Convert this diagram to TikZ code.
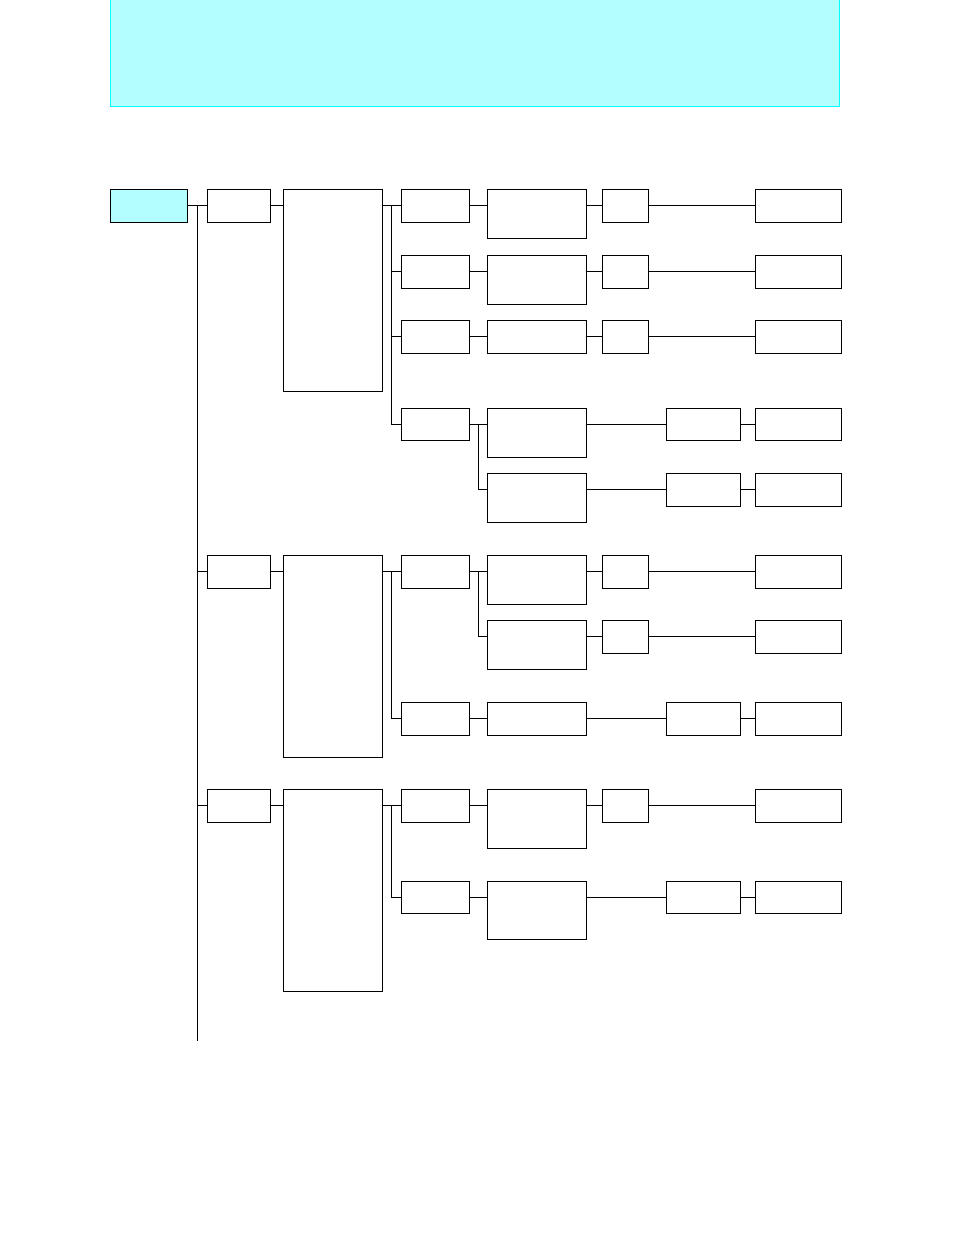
\documentclass[tikz,border=0pt]{standalone}
\usetikzlibrary{calc}
\definecolor{lightcyan}{HTML}{B3FFFF}
\definecolor{hdrline}{HTML}{00FFFF}
\tikzset{
  box/.style={draw=black, line width=1pt, rectangle, anchor=north west, inner sep=0pt, outer sep=0pt},
  wire/.style={draw=black, line width=1pt},
}
\newcommand{\bx}[5]{\node[box, minimum width=#4pt, minimum height=#5pt] (#1) at (#2,#3) {};}
\begin{document}
\begin{tikzpicture}[x=1pt,y=-1pt]
\useasboundingbox (0,0) rectangle (954,1235);
% header band
\fill[lightcyan] (110,-2) rectangle (839,106);
\draw[hdrline, line width=1pt] (110,-2) -- (110,106) -- (839,106) -- (839,-2);

% root and first level
\node[box, fill=lightcyan, minimum width=77pt, minimum height=33pt] (root) at (110,189) {};
\bx{A1}{207}{189}{63}{33}
\bx{A2}{207}{555}{63}{33}
\bx{A3}{207}{789}{63}{33}
\bx{B1}{283}{189}{99}{202}
\bx{B2}{283}{555}{99}{202}
\bx{B3}{283}{789}{99}{202}

% section 1
\bx{C11}{401}{189}{68}{33}
\bx{C12}{401}{255}{68}{33}
\bx{C13}{401}{320}{68}{33}
\bx{C14}{401}{408}{68}{32}
\bx{D11}{487}{189}{99}{49}
\bx{D12}{487}{255}{99}{49}
\bx{D13}{487}{320}{99}{33}
\bx{D14}{487}{408}{99}{49}
\bx{D15}{487}{473}{99}{49}
\bx{E11}{602}{189}{46}{33}
\bx{E12}{602}{255}{46}{33}
\bx{E13}{602}{320}{46}{33}
\bx{G14}{666}{408}{74}{32}
\bx{G15}{666}{473}{74}{33}
\bx{F11}{755}{189}{86}{33}
\bx{F12}{755}{255}{86}{33}
\bx{F13}{755}{320}{86}{33}
\bx{F14}{755}{408}{86}{32}
\bx{F15}{755}{473}{86}{33}

% section 2
\bx{C21}{401}{555}{68}{33}
\bx{C23}{401}{702}{68}{33}
\bx{D21}{487}{555}{99}{49}
\bx{D22}{487}{620}{99}{49}
\bx{D23}{487}{702}{99}{33}
\bx{E21}{602}{555}{46}{33}
\bx{E22}{602}{620}{46}{33}
\bx{G23}{666}{702}{74}{33}
\bx{F21}{755}{555}{86}{33}
\bx{F22}{755}{620}{86}{33}
\bx{F23}{755}{702}{86}{33}

% section 3
\bx{C31}{401}{789}{68}{33}
\bx{C32}{401}{881}{68}{32}
\bx{D31}{487}{789}{99}{59}
\bx{D32}{487}{881}{99}{58}
\bx{E31}{602}{789}{46}{33}
\bx{G32}{666}{881}{74}{32}
\bx{F31}{755}{789}{86}{33}
\bx{F32}{755}{881}{86}{32}

% trunk
\coordinate (t0) at (197.3,0 |- root.east);
\coordinate (tend) at (197.3,1040.7);
\draw[wire] (root.east) -- (A1.west);
\draw[wire] (t0) -- (tend);
\draw[wire] (t0 |- A2.west) -- (A2.west);
\draw[wire] (t0 |- A3.west) -- (A3.west);

% level A -> B
\draw[wire] (A1.east) -- (A1.east -| B1.west);
\draw[wire] (A2.east) -- (A2.east -| B2.west);
\draw[wire] (A3.east) -- (A3.east -| B3.west);

% buses
\coordinate (v1) at (391.7,0 |- C11.west);
\coordinate (v2) at (391.7,0 |- C21.west);
\coordinate (v3) at (391.7,0 |- C31.west);
\draw[wire] (C11.west -| B1.east) -- (C11.west);
\draw[wire] (v1) |- (C14.west);
\draw[wire] (v1 |- C12.west) -- (C12.west);
\draw[wire] (v1 |- C13.west) -- (C13.west);
\draw[wire] (C21.west -| B2.east) -- (C21.west);
\draw[wire] (v2) |- (C23.west);
\draw[wire] (C31.west -| B3.east) -- (C31.west);
\draw[wire] (v3) |- (C32.west);

% section 1 rows
\foreach \r in {11,12,13}{
  \draw[wire] (C\r.east) -- (C\r.east -| D\r.west);
  \draw[wire] (C\r.east -| D\r.east) -- (E\r.west);
  \draw[wire] (E\r.east) -- (F\r.west);
}
\coordinate (b1) at (478.5,0 |- C14.east);
\draw[wire] (C14.east) -- (C14.east -| D14.west);
\draw[wire] (b1) |- (D15.west |- G15.west);
\draw[wire] (D14.east |- G14.west) -- (G14.west);
\draw[wire] (D15.east |- G15.west) -- (G15.west);
\draw[wire] (G14.east) -- (F14.west);
\draw[wire] (G15.east) -- (F15.west);

% section 2 rows
\coordinate (b2) at (478.5,0 |- C21.east);
\draw[wire] (C21.east) -- (C21.east -| D21.west);
\draw[wire] (b2) |- (D22.west |- E22.west);
\draw[wire] (D21.east |- E21.west) -- (E21.west);
\draw[wire] (D22.east |- E22.west) -- (E22.west);
\draw[wire] (E21.east) -- (F21.west);
\draw[wire] (E22.east) -- (F22.west);
\draw[wire] (C23.east) -- (D23.west);
\draw[wire] (D23.east) -- (G23.west);
\draw[wire] (G23.east) -- (F23.west);

% section 3 rows
\draw[wire] (C31.east) -- (C31.east -| D31.west);
\draw[wire] (C31.east -| D31.east) -- (E31.west);
\draw[wire] (E31.east) -- (F31.west);
\draw[wire] (C32.east) -- (C32.east -| D32.west);
\draw[wire] (D32.east |- G32.west) -- (G32.west);
\draw[wire] (G32.east) -- (F32.west);
\end{tikzpicture}
\end{document}
